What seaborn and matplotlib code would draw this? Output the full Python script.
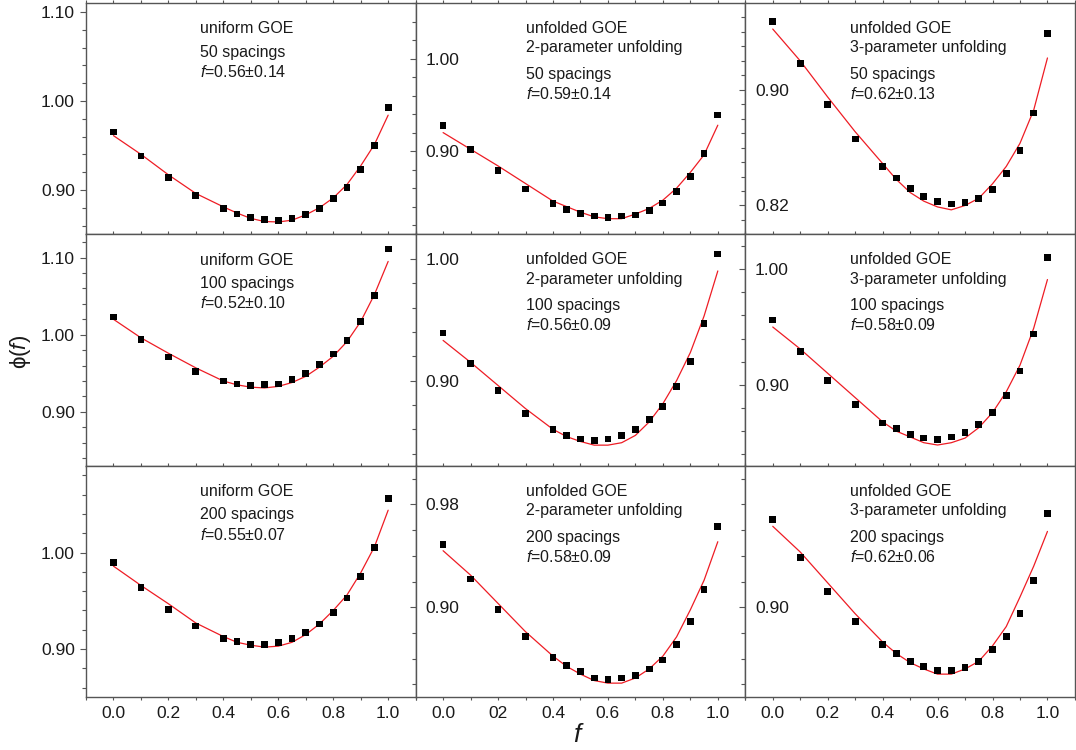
import matplotlib
matplotlib.use("Agg")
import matplotlib.pyplot as plt
from matplotlib.ticker import MultipleLocator, FixedLocator, FormatStrFormatter
import seaborn as sns

# ==========================================================
# DATA  (phi(f), 9 panels)
# ==========================================================

f_vals = [0.0, 0.1, 0.2, 0.3, 0.4, 0.45, 0.5, 0.55, 0.6, 0.65, 0.7, 0.75, 0.8, 0.85, 0.9, 0.95, 1.0]

uni50_pts = [0.965, 0.938, 0.914, 0.894, 0.879, 0.873, 0.869, 0.867, 0.866, 0.868, 0.872, 0.879, 0.890, 0.903, 0.923, 0.950, 0.993]
uni50_fit = [0.961, 0.940, 0.917, 0.896, 0.881, 0.874, 0.868, 0.8645, 0.864, 0.866, 0.872, 0.880, 0.891, 0.906, 0.927, 0.951, 0.984]

two50_pts = [0.928, 0.902, 0.879, 0.859, 0.843, 0.837, 0.833, 0.830, 0.828, 0.830, 0.831, 0.836, 0.844, 0.856, 0.873, 0.897, 0.939]
two50_fit = [0.920, 0.902, 0.884, 0.865, 0.846, 0.840, 0.834, 0.829, 0.827, 0.827, 0.832, 0.838, 0.847, 0.860, 0.877, 0.896, 0.928]

three50_pts = [0.947, 0.918, 0.890, 0.866, 0.847, 0.839, 0.832, 0.826, 0.823, 0.821, 0.822, 0.825, 0.831, 0.842, 0.858, 0.884, 0.939]
three50_fit = [0.942, 0.920, 0.895, 0.871, 0.849, 0.838, 0.829, 0.823, 0.819, 0.817, 0.820, 0.825, 0.835, 0.847, 0.863, 0.886, 0.922]

uni100_pts = [1.023, 0.994, 0.971, 0.952, 0.940, 0.936, 0.934, 0.935, 0.936, 0.942, 0.950, 0.961, 0.975, 0.992, 1.017, 1.051, 1.111]
uni100_fit = [1.020, 0.996, 0.976, 0.957, 0.940, 0.935, 0.932, 0.931, 0.933, 0.938, 0.946, 0.958, 0.972, 0.991, 1.017, 1.052, 1.095]

two100_pts = [0.939, 0.914, 0.892, 0.873, 0.860, 0.855, 0.852, 0.851, 0.852, 0.855, 0.860, 0.868, 0.879, 0.895, 0.916, 0.947, 1.004]
two100_fit = [0.933, 0.915, 0.896, 0.877, 0.860, 0.854, 0.850, 0.847, 0.847, 0.849, 0.855, 0.866, 0.881, 0.900, 0.923, 0.953, 0.990]

three100_pts = [0.956, 0.929, 0.904, 0.883, 0.867, 0.862, 0.857, 0.854, 0.853, 0.855, 0.859, 0.866, 0.876, 0.891, 0.912, 0.944, 1.010]
three100_fit = [0.950, 0.931, 0.910, 0.889, 0.868, 0.860, 0.855, 0.850, 0.848, 0.850, 0.854, 0.863, 0.876, 0.894, 0.917, 0.949, 0.991]

uni200_pts = [0.990, 0.964, 0.941, 0.924, 0.911, 0.908, 0.905, 0.905, 0.907, 0.911, 0.917, 0.926, 0.938, 0.953, 0.975, 1.005, 1.056]
uni200_fit = [0.986, 0.966, 0.947, 0.927, 0.913, 0.907, 0.904, 0.902, 0.903, 0.907, 0.915, 0.926, 0.940, 0.956, 0.979, 1.006, 1.044]

two200_pts = [0.949, 0.922, 0.898, 0.877, 0.861, 0.855, 0.850, 0.845, 0.844, 0.845, 0.847, 0.852, 0.859, 0.871, 0.889, 0.914, 0.963]
two200_fit = [0.944, 0.925, 0.903, 0.881, 0.862, 0.854, 0.848, 0.843, 0.841, 0.841, 0.845, 0.852, 0.862, 0.877, 0.898, 0.921, 0.951]

three200_pts = [0.968, 0.939, 0.912, 0.889, 0.871, 0.864, 0.858, 0.854, 0.851, 0.851, 0.853, 0.858, 0.867, 0.877, 0.895, 0.921, 0.973]
three200_fit = [0.963, 0.943, 0.919, 0.895, 0.873, 0.864, 0.857, 0.852, 0.848, 0.848, 0.852, 0.858, 0.870, 0.885, 0.908, 0.932, 0.959]

panel_pts = [uni50_pts, two50_pts, three50_pts,
             uni100_pts, two100_pts, three100_pts,
             uni200_pts, two200_pts, three200_pts]

panel_fit = [uni50_fit, two50_fit, three50_fit,
             uni100_fit, two100_fit, three100_fit,
             uni200_fit, two200_fit, three200_fit]

panel_text = [
    ["uniform GOE", "50 spacings", "$f$=0.56±0.14"],
    ["unfolded GOE", "2-parameter unfolding", "50 spacings", "$f$=0.59±0.14"],
    ["unfolded GOE", "3-parameter unfolding", "50 spacings", "$f$=0.62±0.13"],
    ["uniform GOE", "100 spacings", "$f$=0.52±0.10"],
    ["unfolded GOE", "2-parameter unfolding", "100 spacings", "$f$=0.56±0.09"],
    ["unfolded GOE", "3-parameter unfolding", "100 spacings", "$f$=0.58±0.09"],
    ["uniform GOE", "200 spacings", "$f$=0.55±0.07"],
    ["unfolded GOE", "2-parameter unfolding", "200 spacings", "$f$=0.58±0.09"],
    ["unfolded GOE", "3-parameter unfolding", "200 spacings", "$f$=0.62±0.06"],
]

y_limits = [(0.85, 1.11), (0.81, 1.06), (0.80, 0.96),
            (0.83, 1.13), (0.83, 1.02), (0.83, 1.03),
            (0.85, 1.09), (0.83, 1.01), (0.83, 1.01)]

y_major = [[0.90, 1.00, 1.10], [0.90, 1.00], [0.82, 0.90],
           [0.90, 1.00, 1.10], [0.90, 1.00], [0.90, 1.00],
           [0.90, 1.00], [0.90, 0.98], [0.90]]

y_minor_step = [0.02, 0.02, 0.01, 0.02, 0.02, 0.02, 0.02, 0.02, 0.02]

x_major = [0.0, 0.2, 0.4, 0.6, 0.8, 1.0]
x_minor = [-0.1, 0.1, 0.3, 0.5, 0.7, 0.9, 1.1]
x_labels = [["0.0", "0.2", "0.4", "0.6", "0.8", "1.0"],
            ["0.0", "02", "0.4", "0.6", "0.8", "1.0"],
            ["0.0", "0.2", "0.4", "0.6", "0.8", "1.0"]]

# ==========================================================
# STYLE
# ==========================================================

sns.set_style("ticks")
plt.rcParams["font.family"] = ["Liberation Sans", "DejaVu Sans"]
plt.rcParams["mathtext.fontset"] = "custom"
plt.rcParams["mathtext.rm"] = "Liberation Sans"
plt.rcParams["mathtext.it"] = "Liberation Sans:italic"

EDGE = "#555555"
TXT = "#1a1a1a"

fig, axes = plt.subplots(3, 3, figsize=(10.76, 7.5), dpi=100)
fig.subplots_adjust(left=0.0799, right=0.999, top=0.996, bottom=0.0703,
                    wspace=0, hspace=0)

text_x = [0.345, 0.336, 0.319]
text_y_uniform = [0.888, 0.788, 0.703]
text_y_unfolded = [0.890, 0.806, 0.692, 0.608]

# ==========================================================
# PANELS
# ==========================================================

for k in range(9):

    row, col = divmod(k, 3)
    ax = axes[row, col]

    sns.lineplot(x=f_vals, y=panel_fit[k], ax=ax, color="#ee1c24",
                 linewidth=0.9, estimator=None)

    sns.scatterplot(x=f_vals, y=panel_pts[k], ax=ax, marker="s", s=24,
                    color="black", edgecolor="none", zorder=3)

    ax.set_xlim(-0.1, 1.1)
    ax.set_ylim(*y_limits[k])

    ax.xaxis.set_major_locator(FixedLocator(x_major))
    ax.xaxis.set_minor_locator(FixedLocator(x_minor))
    ax.yaxis.set_major_locator(FixedLocator(y_major[k]))
    ax.yaxis.set_minor_locator(MultipleLocator(y_minor_step[k]))
    ax.yaxis.set_major_formatter(FormatStrFormatter("%.2f"))

    ax.tick_params(which="both", direction="out", top=True, right=True,
                   color=EDGE, width=0.8, labelsize=12.5, labelcolor=TXT)
    ax.tick_params(axis="y", which="major", length=4.5)
    ax.tick_params(axis="y", which="minor", length=3)
    ax.tick_params(axis="x", which="both", length=2.5, pad=4)

    if row < 2:
        ax.tick_params(axis="x", labelbottom=False)
    else:
        ax.set_xticklabels(x_labels[col])

    if col > 0:
        ax.tick_params(axis="y", which="major", pad=-11.5)
        for t in ax.yaxis.get_major_ticks():
            t.label1.set_horizontalalignment("left")

    for sp in ax.spines.values():
        sp.set_color(EDGE)
        sp.set_linewidth(1.0)

    ax.set_xlabel("")
    ax.set_ylabel("")

    lines = panel_text[k]
    ys = text_y_uniform if col == 0 else text_y_unfolded
    for s, yy in zip(lines, ys):
        ax.text(text_x[col], yy, s, transform=ax.transAxes,
                fontsize=11.5, color=TXT, ha="left", va="center")

fig.text(0.019, 0.531, "ϕ($f$)", rotation=90, fontsize=16,
         color=TXT, ha="center", va="center")

fig.text(0.538, 0.02, "$f$", fontsize=19, color=TXT,
         ha="center", va="center")

plt.savefig("out.png", dpi=100)

plt.close()
